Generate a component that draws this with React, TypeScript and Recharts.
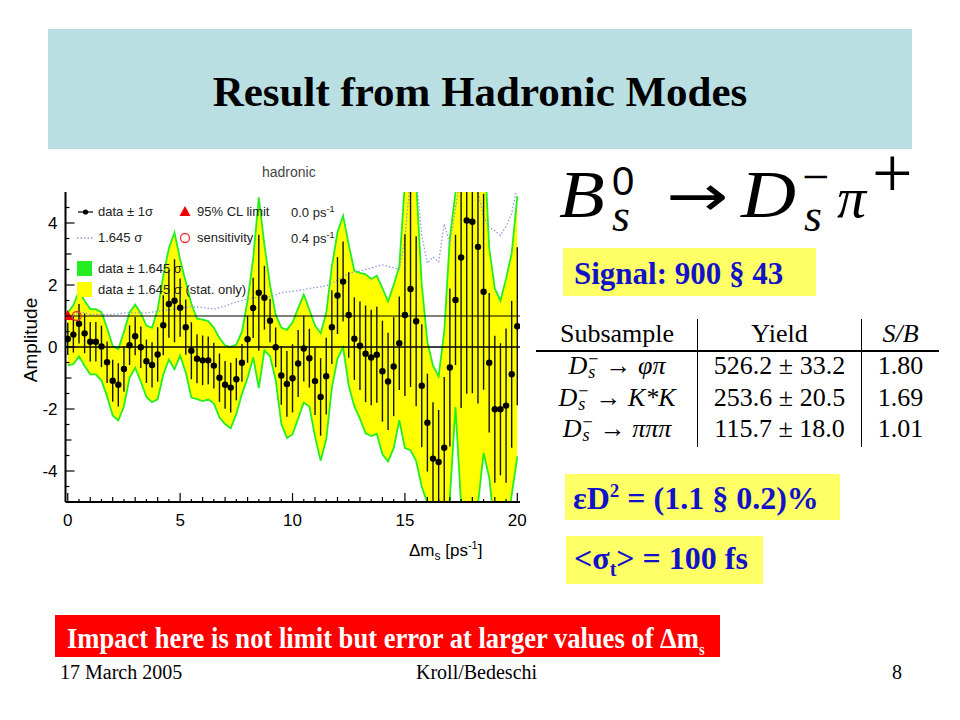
import React from "react";
import {
  ComposedChart,
  Area,
  Line,
  Scatter,
  XAxis,
  YAxis,
  ReferenceLine,
  ErrorBar,
} from "recharts";

// amplitude scan, one point every 0.25 ps^-1 from 0 to 20
const STEP = 0.25;
const amplitude = [
  0.26, 0.4, 0.75, 0.44, 0.17, 0.17, 0.02, -0.49, -1.09, -1.22,
  -0.71, 0.06, 0.35, -0.01, -0.46, -0.58, -0.24, 0.7, 1.39, 1.49,
  1.27, 0.64, -0.12, -0.38, -0.43, -0.43, -0.6, -0.99, -1.22, -1.31,
  -1.04, -0.51, 0.25, 1.26, 1.75, 1.59, 0.85, -0.01, -0.92, -1.19,
  -1.01, -0.53, -0.05, -0.36, -1.1, -1.61, -0.94, 0.64, 1.66, 2.11,
  1.03, 0.27, 0.04, -0.22, -0.34, -0.25, -0.78, -1.11, -0.63, 0.12,
  1.03, 1.87, 0.83, -1.25, -2.44, -3.6, -3.71, -3.25, -0.66, 1.52,
  2.89, 4.08, 4.04, 3.23, 1.78, -0.51, -2.01, -2.01, -1.89, -0.88,
  0.67,
];
const sigma = [
  0.52, 0.58, 0.64, 0.64, 0.64, 0.64, 0.67, 0.67, 0.68, 0.7,
  0.73, 0.64, 0.62, 0.67, 0.7, 0.73, 0.88, 0.97, 1.09, 1.34,
  0.94, 0.89, 0.92, 0.79, 0.8, 0.77, 0.74, 0.78, 0.77, 0.8,
  0.68, 0.61, 0.76, 0.97, 1.87, 1.03, 0.7, 0.64, 0.94, 1.06,
  1.1, 1.08, 1.06, 0.95, 1.09, 1.25, 1.24, 1.19, 1.24, 1.29,
  1.38, 1.33, 1.43, 1.56, 1.54, 1.55, 1.63, 1.57, 1.6, 1.51,
  2.61, 3.16, 2.74, 1.98, 1.58, 1.82, 1.68, 2.28, 2.55, 2.1,
  4.86, 5.59, 5.53, 5.05, 3.16, 2.25, 2.37, 2.13, 2.49, 2.37,
  2.55,
];

// 1.645 sigma sensitivity curve (dotted)
const sensX = [
  0, 0.5, 1, 1.5, 2, 2.5, 3, 3.5, 4, 4.5, 5, 5.5, 6, 6.5, 7, 7.5, 8, 8.5, 9, 9.5,
  10, 10.5, 11, 11.5, 12, 12.5, 13, 13.5, 14, 14.5, 14.75, 15, 15.25, 15.5, 15.75,
  16, 16.25, 16.5, 16.75, 17, 17.25, 17.5, 17.75, 18, 18.25, 18.5, 18.75, 19,
  19.25, 19.5, 19.75, 20,
];
const sensY = [
  0.88, 1.15, 1.05, 1.05, 1.05, 1.1, 1.1, 1.1, 1.15, 1.2, 1.25, 1.3, 1.28, 1.22,
  1.32, 1.45, 1.55, 1.6, 1.62, 1.75, 1.8, 1.85, 1.92, 1.97, 2.15, 2.38, 2.45,
  2.55, 2.65, 2.55, 2.5, 3.5, 5.5, 5.5, 3.6, 2.7, 2.9, 2.75, 3.97, 3.3, 4.5, 5.5,
  5.5, 5.5, 5.0, 4.2, 3.86, 3.75, 3.6, 3.9, 4.3, 5.2,
];

const limitPoint = [{ x: 0.0, y: 1 }];
const sensitivityPoint = [{ x: 0.4, y: 1 }];

const xMajor = [0, 5, 10, 15, 20];
const yMajor = [-4, -2, 0, 2, 4];
const Y_MIN = -5;
const Y_MAX = 5;

const tableHeader = ["Subsample", "Yield", "S/B"];
const tableModes = ["φπ", "K*K", "πππ"];
const tableYields = ["526.2 ± 33.2", "253.6 ± 20.5", "115.7 ± 18.0"];
const tableSB = ["1.80", "1.69", "1.01"];

// error bars are cut at the frame, like the original plot
const scan = amplitude.map((a, i) => ({
  x: i * STEP,
  a,
  err: [Math.min(sigma[i], a - Y_MIN), Math.min(sigma[i], Y_MAX - a)],
  band: [a - 1.645 * sigma[i], a + 1.645 * sigma[i]],
}));
const sens = sensX.map((x, i) => ({ x, y: sensY[i] }));

const xTicks = Array.from({ length: 41 }, (_, i) => i * 0.5);
const yTicks = Array.from({ length: 19 }, (_, i) => -4.5 + i * 0.5);

const SANS = '"Liberation Sans", Arial, sans-serif';
const SERIF = '"Liberation Serif", "Times New Roman", serif';
const BLUE = "#1212c8";

const XTick = (props: any) => {
  const { x, y, payload } = props;
  const v = payload.value;
  const len = v % 5 === 0 ? 9 : Number.isInteger(v) ? 5 : 3;
  return (
    <g>
      <line x1={x} x2={x} y1={y} y2={y - len} stroke="#000" strokeWidth={1.2} />
      {xMajor.includes(v) && (
        <text x={x} y={y + 24} textAnchor="middle" fontSize={17} fontFamily={SANS} fill="#000">
          {v}
        </text>
      )}
    </g>
  );
};

const YTick = (props: any) => {
  const { x, y, payload } = props;
  const v = payload.value;
  const len = v % 2 === 0 ? 9 : Number.isInteger(v) ? 6 : 4;
  return (
    <g>
      <line x1={x} x2={x + len} y1={y} y2={y} stroke="#000" strokeWidth={1.2} />
      {yMajor.includes(v) && (
        <text x={x - 8} y={y + 6} textAnchor="end" fontSize={17} fontFamily={SANS} fill="#000">
          {v}
        </text>
      )}
    </g>
  );
};

const Dot = (p: any) => <circle cx={p.cx} cy={p.cy} r={3.2} fill="#000" />;
const Triangle = (p: any) => (
  <polygon
    points={`${p.cx},${p.cy - 6} ${p.cx - 5.5},${p.cy + 4} ${p.cx + 5.5},${p.cy + 4}`}
    fill="#ee0000"
  />
);
const Ring = (p: any) => (
  <circle cx={p.cx} cy={p.cy} r={4.5} fill="none" stroke="#ee3333" strokeWidth={1.3} />
);

// absolutely placed text; lineHeight 0.7 keeps the boxes tight round the glyphs
const abs = (l: number, t: number, extra: React.CSSProperties = {}): React.CSSProperties => ({
  position: "absolute",
  left: l,
  top: t,
  lineHeight: 1,
  whiteSpace: "nowrap",
  ...extra,
});
const tight = (l: number, baseline: number, size: number, extra: React.CSSProperties = {}) =>
  abs(l, baseline - 0.69 * size, { lineHeight: 0.7, fontSize: size, ...extra });

const legendText: React.CSSProperties = { fontFamily: SANS, fontSize: 13, color: "#222" };

function AmplitudeChart() {
  return (
    <div style={{ position: "absolute", left: 0, top: 150 }}>
      <ComposedChart
        width={540}
        height={420}
        data={scan}
        margin={{ top: 42, right: 20, left: 0, bottom: 0 }}
      >
        <XAxis
          dataKey="x"
          type="number"
          domain={[-0.1, 20.12]}
          allowDataOverflow
          ticks={xTicks}
          interval={0}
          tick={<XTick />}
          tickLine={false}
          tickSize={0}
          tickMargin={0}
          height={68}
          axisLine={{ stroke: "#000", strokeWidth: 2 }}
        />
        <XAxis
          xAxisId="top"
          orientation="top"
          type="number"
          domain={[-0.1, 20.12]}
          tick={false}
          tickLine={false}
          height={0}
          axisLine={{ stroke: "#000", strokeWidth: 2 }}
        />
        <YAxis
          type="number"
          domain={[Y_MIN, Y_MAX]}
          allowDataOverflow
          ticks={yTicks}
          interval={0}
          tick={<YTick />}
          tickLine={false}
          tickSize={0}
          tickMargin={0}
          width={65.5}
          axisLine={{ stroke: "#000", strokeWidth: 2 }}
        />
        <YAxis
          yAxisId="right"
          orientation="right"
          type="number"
          domain={[Y_MIN, Y_MAX]}
          tick={false}
          tickLine={false}
          width={0}
          axisLine={{ stroke: "#000", strokeWidth: 2 }}
        />
        <Area
          dataKey="band"
          type="linear"
          fill="#ffff00"
          fillOpacity={1}
          stroke="#22ee22"
          strokeWidth={1.8}
          isAnimationActive={false}
          activeDot={false}
          dot={false}
        />
        <Line
          data={sens}
          dataKey="y"
          type="linear"
          stroke="#8f9ed8"
          strokeWidth={1.3}
          strokeDasharray="1.5 2"
          dot={false}
          activeDot={false}
          isAnimationActive={false}
        />
        <ReferenceLine y={1} stroke="#000" strokeWidth={1} />
        <ReferenceLine y={0} stroke="#000" strokeWidth={1.4} />
        <Scatter dataKey="a" shape={<Dot />} isAnimationActive={false}>
          <ErrorBar dataKey="err" direction="y" width={0} stroke="#111" strokeWidth={1.4} isAnimationActive={false} />
        </Scatter>
        <Scatter data={limitPoint} dataKey="y" shape={<Triangle />} isAnimationActive={false} />
        <Scatter data={sensitivityPoint} dataKey="y" shape={<Ring />} isAnimationActive={false} />
      </ComposedChart>

      {/* chart title and axis titles */}
      <div style={abs(262, 15, { fontFamily: SANS, fontSize: 14, color: "#444" })}>hadronic</div>
      <div
        style={abs(30, 190, {
          fontFamily: SANS,
          fontSize: 19,
          transform: "translate(-50%, -50%) rotate(-90deg)",
        })}
      >
        Amplitude
      </div>
      <div style={abs(409, 390, { fontFamily: SANS, fontSize: 17 })}>
        Δm<sub style={{ fontSize: 12 }}>s</sub> [ps<sup style={{ fontSize: 11 }}>-1</sup>]
      </div>

      {/* legend */}
      <svg style={{ position: "absolute", left: 0, top: 0 }} width={540} height={160}>
        <line x1={78} x2={93} y1={62} y2={62} stroke="#000" strokeWidth={1.2} />
        <circle cx={85.5} cy={62} r={2.6} fill="#000" />
        <line x1={77} x2={94} y1={88} y2={88} stroke="#8f9ed8" strokeWidth={1.3} strokeDasharray="1.5 2" />
        <rect x={77} y={111} width={15} height={15} fill="#22ee22" />
        <rect x={77} y={132} width={15} height={15} fill="#ffff00" />
        <polygon points="185,56 179.5,66 190.5,66" fill="#ee0000" />
        <circle cx={185} cy={88} r={4.5} fill="none" stroke="#ee3333" strokeWidth={1.3} />
      </svg>
      <div style={abs(98, 55, legendText)}>data ± 1σ</div>
      <div style={abs(98, 81, legendText)}>1.645 σ</div>
      <div style={abs(98, 112, legendText)}>data ± 1.645 σ</div>
      <div style={abs(98, 133, legendText)}>data ± 1.645 σ (stat. only)</div>
      <div style={abs(197, 55, legendText)}>95% CL limit</div>
      <div style={abs(197, 81, legendText)}>sensitivity</div>
      <div style={abs(291, 55, legendText)}>
        0.0 ps<sup style={{ fontSize: 9 }}>-1</sup>
      </div>
      <div style={abs(291, 81, legendText)}>
        0.4 ps<sup style={{ fontSize: 9 }}>-1</sup>
      </div>
    </div>
  );
}

const Ds = ({ size }: { size: number }) => (
  <span style={{ fontStyle: "italic" }}>
    D
    <span style={{ display: "inline-block", position: "relative", width: size * 0.45 }}>
      <span style={{ position: "absolute", left: 1, top: -size * 0.8, fontSize: size * 0.7, fontStyle: "normal", lineHeight: 0.7 }}>−</span>
      <span style={{ position: "absolute", left: 1, top: -size * 0.3, fontSize: size * 0.7, lineHeight: 0.7 }}>s</span>
    </span>
  </span>
);

function Slide() {
  const colL = 537;
  const colW = [160, 165, 77];
  const rowBase = [343, 375, 407, 438];
  const tf = 26;
  const cell = (ci: number, ri: number, content: React.ReactNode, italic = false) => {
    const left = colL + colW.slice(0, ci).reduce((s, w) => s + w, 0);
    return (
      <div
        key={`${ci}-${ri}`}
        style={abs(left, rowBase[ri] - 0.84 * tf, {
          width: colW[ci],
          textAlign: "center",
          fontFamily: SERIF,
          fontSize: tf,
          fontStyle: italic ? "italic" : "normal",
        })}
      >
        {content}
      </div>
    );
  };

  return (
    <div
      style={{
        position: "absolute",
        left: 0,
        top: 0,
        width: 960,
        height: 720,
        background: "#fff",
        overflow: "hidden",
      }}
    >
      {/* title banner */}
      <div style={{ position: "absolute", left: 48, top: 29, width: 864, height: 120, background: "#b9dfe3" }} />
      <div
        style={abs(48, 70, {
          width: 864,
          textAlign: "center",
          fontFamily: SERIF,
          fontWeight: "bold",
          fontSize: 43,
          color: "#000",
        })}
      >
        Result from Hadronic Modes
      </div>

      <AmplitudeChart />

      {/* decay formula */}
      <div style={tight(559, 218, 68, { fontFamily: SERIF, fontStyle: "italic", transform: "scaleX(1.1)", transformOrigin: "left" })}>B</div>
      <div style={tight(612, 195, 40, { fontFamily: SANS })}>0</div>
      <div style={tight(612, 232, 46, { fontFamily: SERIF, fontStyle: "italic" })}>s</div>
      <div style={tight(666, 216, 58, { fontFamily: '"DejaVu Sans", sans-serif', transform: "scaleX(1.28)", transformOrigin: "left" })}>→</div>
      <div style={tight(741, 218, 68, { fontFamily: SERIF, fontStyle: "italic", transform: "scaleX(1.12)", transformOrigin: "left" })}>D</div>
      <div style={tight(802, 193, 48, { fontFamily: SERIF })}>−</div>
      <div style={tight(804, 232, 46, { fontFamily: SERIF, fontStyle: "italic" })}>s</div>
      <div style={tight(837, 218, 58, { fontFamily: SERIF, fontStyle: "italic" })}>π</div>
      <div style={tight(872, 198, 72, { fontFamily: SERIF })}>+</div>

      {/* signal box */}
      <div style={{ position: "absolute", left: 563, top: 248, width: 253, height: 48, background: "#ffff66" }} />
      <div style={abs(574, 258, { fontFamily: SERIF, fontWeight: "bold", fontSize: 31, color: BLUE })}>
        Signal: 900 § 43
      </div>

      {/* yield table */}
      {tableHeader.map((h, i) => cell(i, 0, h, i === 2))}
      {tableModes.map((m, i) =>
        cell(
          0,
          i + 1,
          <span>
            <Ds size={tf} /> → <span style={{ fontStyle: "italic" }}>{m}</span>
          </span>
        )
      )}
      {tableYields.map((y, i) => cell(1, i + 1, y))}
      {tableSB.map((s, i) => cell(2, i + 1, s))}
      <div style={{ position: "absolute", left: 536, top: 350, width: 403, height: 1.5, background: "#000" }} />
      <div style={{ position: "absolute", left: 697, top: 319, width: 1.3, height: 128, background: "#000" }} />
      <div style={{ position: "absolute", left: 861, top: 319, width: 1.3, height: 128, background: "#000" }} />

      {/* eps D^2 box */}
      <div style={{ position: "absolute", left: 565, top: 474, width: 275, height: 46, background: "#ffff66" }} />
      <div style={abs(573, 481, { fontFamily: SERIF, fontWeight: "bold", fontSize: 32, color: BLUE })}>
        εD<sup style={{ fontSize: 19 }}>2</sup> = (1.1 § 0.2)%
      </div>

      {/* sigma_t box */}
      <div style={{ position: "absolute", left: 566, top: 536, width: 197, height: 48, background: "#ffff66" }} />
      <div style={abs(574, 542, { fontFamily: SERIF, fontWeight: "bold", fontSize: 32, color: BLUE })}>
        &lt;σ<sub style={{ fontSize: 20 }}>t</sub>&gt; = 100 fs
      </div>

      {/* red note */}
      <div style={{ position: "absolute", left: 55, top: 615, width: 665, height: 42, background: "#ff0000" }} />
      <div style={abs(67, 624, { fontFamily: SERIF, fontWeight: "bold", fontSize: 29.5, color: "#fff", transform: "scaleX(0.9)", transformOrigin: "left" })}>
        Impact here is not limit but error at larger values of Δm<sub style={{ fontSize: 16 }}>s</sub>
      </div>

      {/* footer */}
      <div style={abs(60, 662, { fontFamily: SERIF, fontSize: 20 })}>17 March 2005</div>
      <div style={abs(416, 662, { fontFamily: SERIF, fontSize: 20 })}>Kroll/Bedeschi</div>
      <div style={abs(892, 662, { fontFamily: SERIF, fontSize: 20 })}>8</div>
    </div>
  );
}

export default function App() {
  return <Slide />;
}
